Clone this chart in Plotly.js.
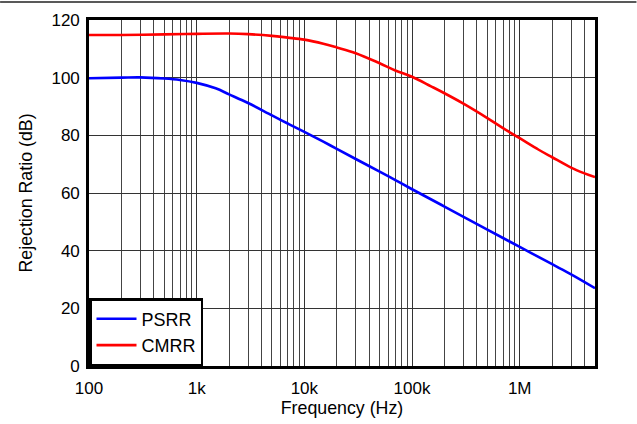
<!DOCTYPE html>
<html>
<head>
<meta charset="utf-8">
<script src="https://cdn.plot.ly/plotly-3.0.1.min.js"></script>
<style>html,body{margin:0;padding:0;background:#fff;}#chart{width:637px;height:424px;}</style>
</head>
<body>
<div id="chart"></div>
<script>
// Frequency (Hz)
const psrrFreq = [100, 200, 300, 500, 700, 1000, 1500, 2000, 3000, 5000, 7000, 10000, 15000, 20000, 30000, 50000, 70000, 100000, 200000, 500000, 1000000, 2000000, 3000000, 5000000];
const psrrDb   = [99.8, 100.0, 100.1, 99.7, 99.2, 98.2, 96.3, 94.2, 91.2, 86.9, 84.1, 81.2, 77.8, 75.3, 71.8, 67.4, 64.5, 61.3, 55.3, 47.3, 41.3, 35.3, 31.8, 27.0];

const cmrrFreq = [100, 200, 500, 1000, 2000, 3000, 5000, 7000, 10000, 15000, 20000, 30000, 50000, 70000, 100000, 150000, 200000, 300000, 500000, 700000, 1000000, 1500000, 2000000, 3000000, 4000000, 5000000];
const cmrrDb   = [114.8, 114.8, 115.0, 115.2, 115.3, 115.1, 114.5, 113.9, 113.2, 111.8, 110.5, 108.5, 105.0, 102.5, 100.3, 97.0, 94.6, 91.0, 86.0, 82.5, 79.0, 75.0, 72.4, 68.8, 66.8, 65.5];

const xTickVals = [100, 1000, 10000, 100000, 1000000];
const xTickText = ['100', '1k', '10k', '100k', '1M'];
const yTickVals = [0, 20, 40, 60, 80, 100, 120];

const minorVals = [];
for (let d = 100; d < 1e7; d *= 10) {
  for (let m = 2; m <= 9; m++) { if (d * m <= 5e6) minorVals.push(d * m); }
}

const fam = 'Liberation Sans, Arial, sans-serif';
const tickFont = {family: fam, size: 17, color: '#000'};
const titleFont = {family: fam, size: 17.8, color: '#000'};
const legendFont = {family: fam, size: 18, color: '#000'};

const traces = [
  {x: psrrFreq, y: psrrDb, name: 'PSRR', mode: 'lines', line: {color: '#0000FF', width: 2.6, shape: 'spline'}},
  {x: cmrrFreq, y: cmrrDb, name: 'CMRR', mode: 'lines', line: {color: '#FF0000', width: 2.6, shape: 'spline'}}
];

const plotW = 637 - 89 - 41.5, plotH = 424 - 20 - 58;

const layout = {
  width: 637, height: 424,
  margin: {l: 89, r: 41.5, t: 20, b: 58, pad: 0},
  paper_bgcolor: '#fff', plot_bgcolor: '#fff',
  font: tickFont,
  showlegend: true,
  xaxis: {
    type: 'log', range: [2, Math.log10(5e6)],
    tickmode: 'array', tickvals: xTickVals, ticktext: xTickText,
    showgrid: true, gridcolor: '#333', gridwidth: 1,
    minor: {tickmode: 'array', tickvals: minorVals, showgrid: true, gridcolor: '#444', gridwidth: 1, ticklen: 0},
    showline: true, linecolor: '#000', linewidth: 2.8, mirror: true,
    ticks: '', zeroline: false, ticklabelstandoff: 5,
    tickfont: tickFont,
    title: {text: 'Frequency (Hz)', font: titleFont, standoff: 0}
  },
  yaxis: {
    range: [0, 120], tickmode: 'array', tickvals: yTickVals,
    showgrid: true, gridcolor: '#333', gridwidth: 1,
    showline: true, linecolor: '#000', linewidth: 2.8, mirror: true,
    ticks: '', zeroline: false, ticklabelstandoff: 3,
    tickfont: tickFont,
    title: {text: 'Rejection Ratio (dB)', font: titleFont, standoff: 15}
  },
  legend: {
    x: 0, y: 0, xanchor: 'left', yanchor: 'bottom',
    bgcolor: '#fff', bordercolor: '#000', borderwidth: 2.5,
    font: legendFont, itemwidth: 40, tracegroupgap: 0
  },
  shapes: [
    {type: 'line', xref: 'paper', yref: 'paper',
     x0: -89 / plotW, x1: 1 + 41.5 / plotW, y0: 1 + 18 / plotH, y1: 1 + 18 / plotH,
     line: {color: '#222', width: 1.5}}
  ]
};

Plotly.newPlot('chart', traces, layout, {staticPlot: true, displayModeBar: false});
</script>
</body>
</html>
